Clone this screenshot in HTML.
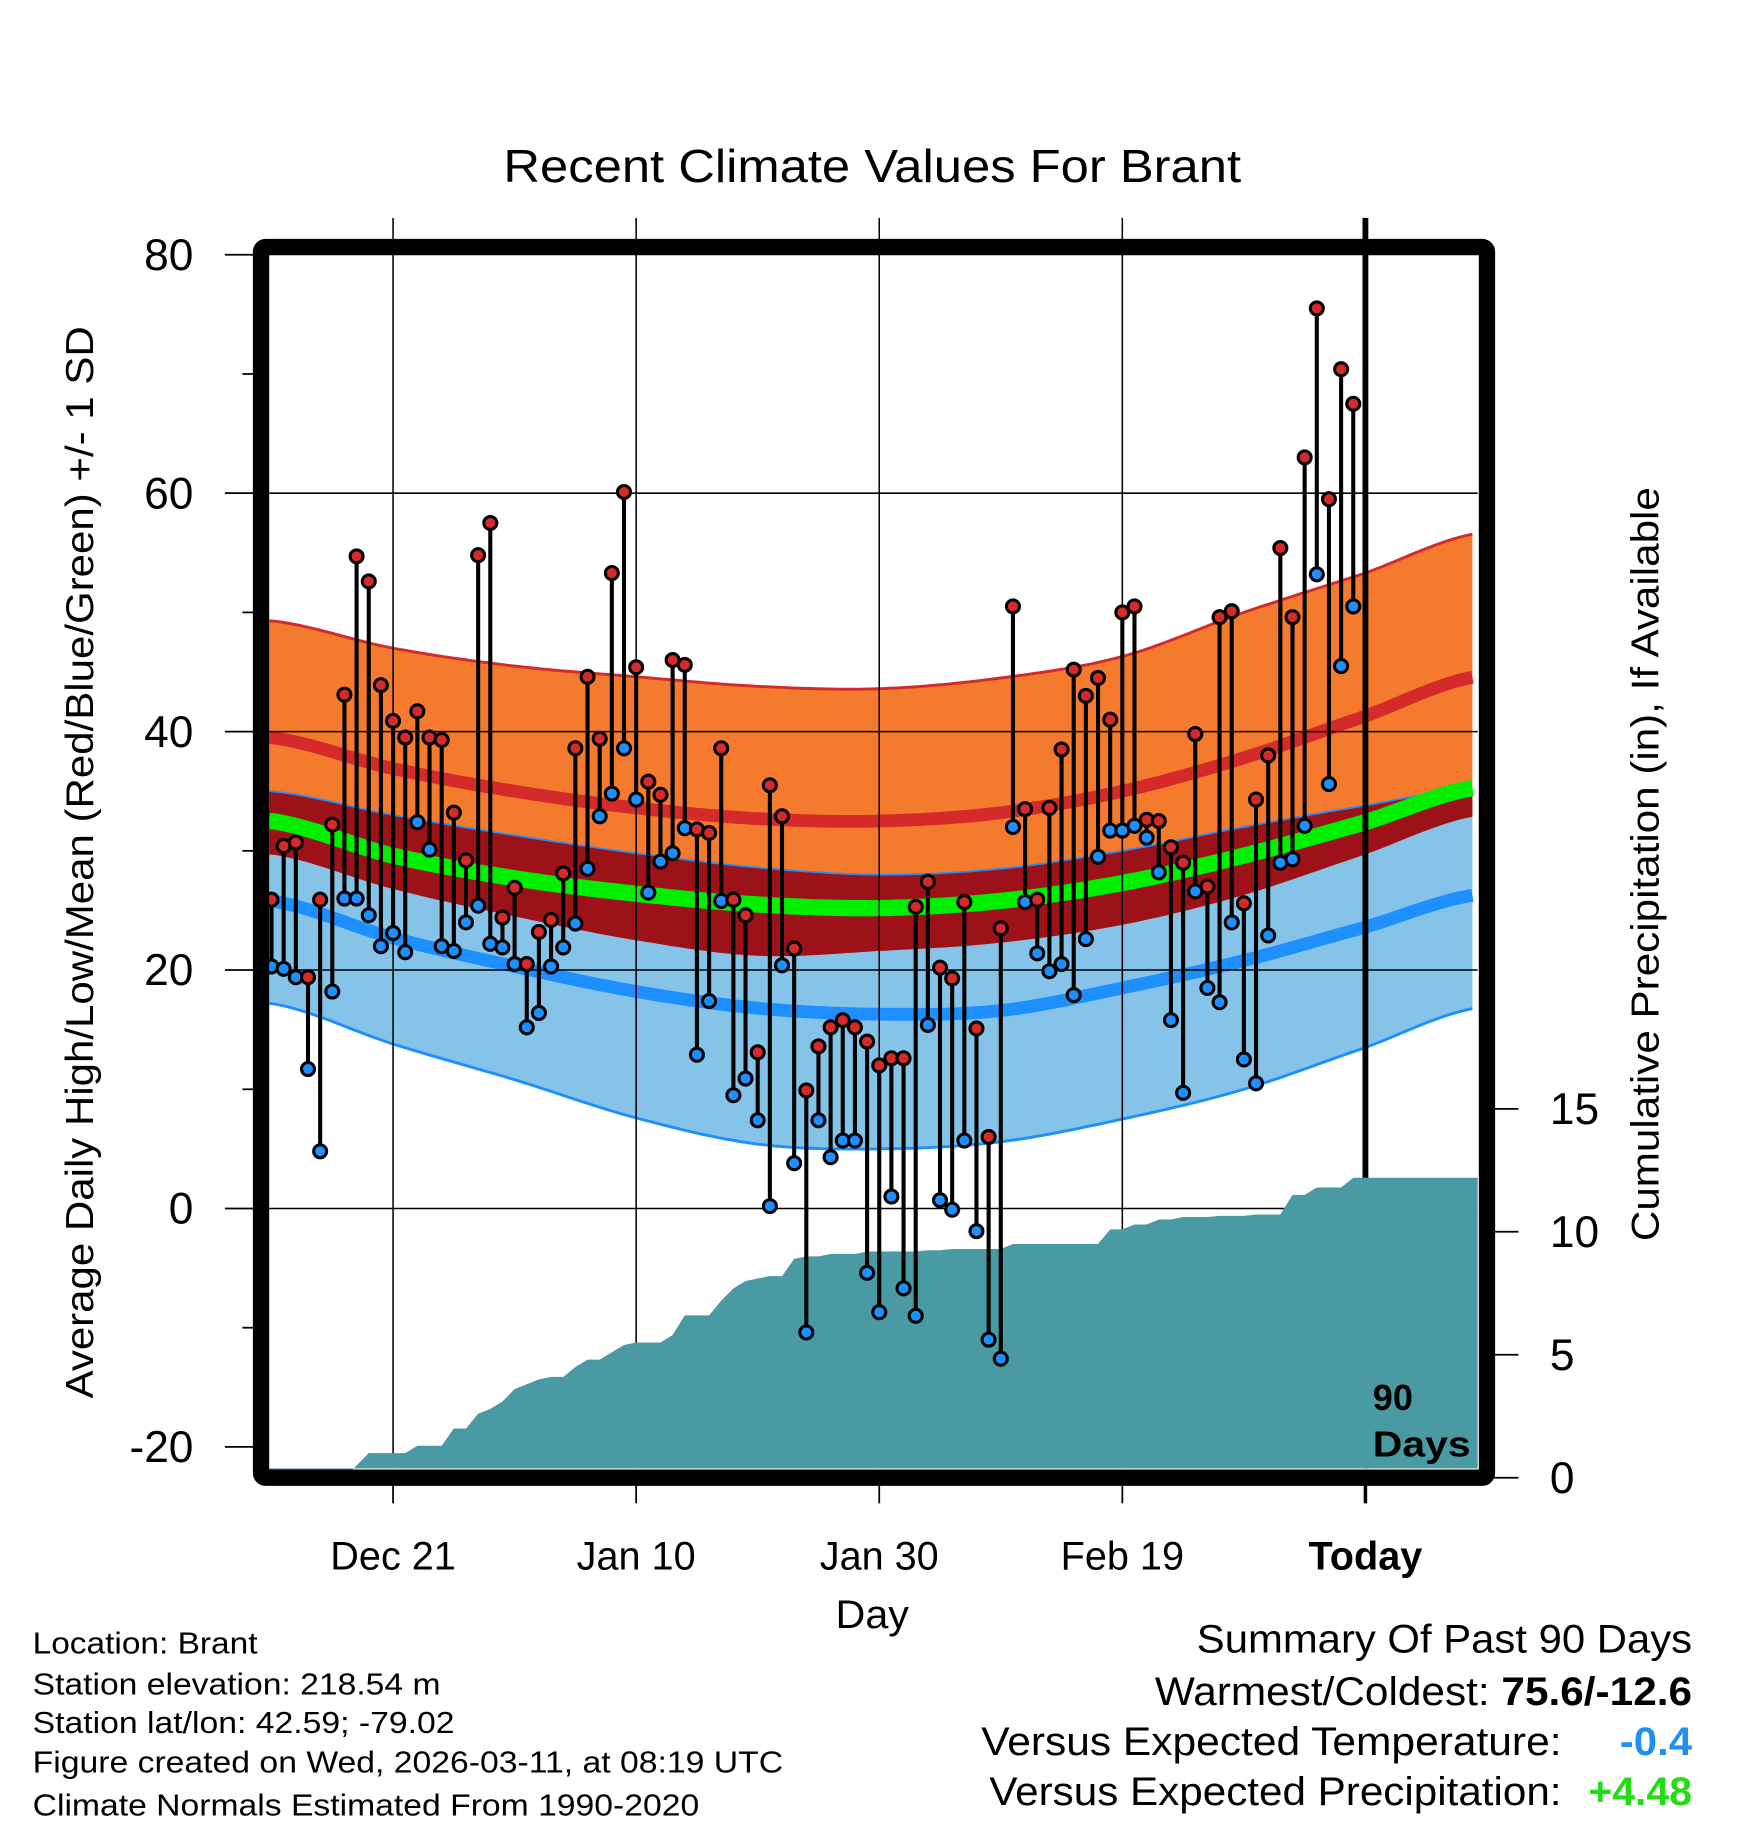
<!DOCTYPE html>
<html><head><meta charset="utf-8"><style>
html,body{margin:0;padding:0;background:#fff;}
svg{display:block;font-family:"Liberation Sans",Arial,sans-serif;}
</style></head><body>
<svg id="chart" width="1748" height="1828" viewBox="0 0 1500 1568.6" preserveAspectRatio="none" xmlns="http://www.w3.org/2000/svg">
<text x="432" y="156" font-size="40" textLength="633" lengthAdjust="spacingAndGlyphs">Recent Climate Values For Brant</text>
<g id="bands"></g><g id="grid"></g><g id="precip"></g><g id="marks"></g><g id="axes"></g>
<text transform="translate(80,1200) rotate(-90)" font-size="33" textLength="920" lengthAdjust="spacingAndGlyphs">Average Daily High/Low/Mean (Red/Blue/Green) +/- 1 SD</text>
<text transform="translate(1423,1065) rotate(-90)" font-size="33" textLength="647" lengthAdjust="spacingAndGlyphs">Cumulative Precipitation (in), If Available</text>
<text x="717" y="1397" font-size="34" textLength="63" lengthAdjust="spacingAndGlyphs">Day</text>
<text x="1178" y="1210" font-size="31" font-weight="bold">90</text>
<text x="1178" y="1250" font-size="31" font-weight="bold" textLength="84" lengthAdjust="spacingAndGlyphs">Days</text>
<g font-size="26">
<text x="28" y="1419" textLength="193" lengthAdjust="spacingAndGlyphs">Location: Brant</text>
<text x="28" y="1454" textLength="350" lengthAdjust="spacingAndGlyphs">Station elevation: 218.54 m</text>
<text x="28" y="1487" textLength="362" lengthAdjust="spacingAndGlyphs">Station lat/lon: 42.59; -79.02</text>
<text x="28" y="1521" textLength="644" lengthAdjust="spacingAndGlyphs">Figure created on Wed, 2026-03-11, at 08:19 UTC</text>
<text x="28" y="1558" textLength="572" lengthAdjust="spacingAndGlyphs">Climate Normals Estimated From 1990-2020</text>
</g>
<g font-size="34">
<text x="1027" y="1418" textLength="425" lengthAdjust="spacingAndGlyphs">Summary Of Past 90 Days</text>
<text x="991" y="1463" textLength="461" lengthAdjust="spacingAndGlyphs">Warmest/Coldest: <tspan font-weight="bold">75.6/-12.6</tspan></text>
<text x="842" y="1506" textLength="498" lengthAdjust="spacingAndGlyphs">Versus Expected Temperature:</text>
<text x="1390" y="1506" fill="#2090f0" font-weight="bold" textLength="62" lengthAdjust="spacingAndGlyphs">-0.4</text>
<text x="849" y="1549" textLength="491" lengthAdjust="spacingAndGlyphs">Versus Expected Precipitation:</text>
<text x="1363" y="1549" fill="#22dd11" font-weight="bold" textLength="89" lengthAdjust="spacingAndGlyphs">+4.48</text>
</g>
</svg>
<script>
const highs=[25.9,30.4,30.7,19.4,25.9,32.2,43.1,54.7,52.6,43.9,40.9,39.5,41.7,39.5,39.3,33.2,29.2,54.8,57.5,24.4,26.9,20.5,23.2,24.2,28.1,38.6,44.6,39.4,53.3,60.1,45.4,35.8,34.7,46.0,45.6,31.8,31.5,38.6,25.9,24.6,13.1,35.5,32.9,21.8,9.9,13.6,15.2,15.8,15.2,14.0,12.0,12.6,12.6,25.3,27.4,20.2,19.3,25.7,15.1,6.0,23.5,50.5,33.5,25.9,33.6,38.5,45.2,43.0,44.5,41.0,50.0,50.5,32.6,32.5,30.3,29.0,39.8,27.0,49.6,50.1,25.6,34.3,38.0,55.4,49.6,63.0,75.5,59.5,70.4,67.5];
const lows=[20.3,20.1,19.4,11.7,4.8,18.2,26.0,26.0,24.6,22.0,23.1,21.5,32.4,30.1,22.0,21.6,24.0,25.4,22.2,21.9,20.5,15.2,16.4,20.3,21.9,23.9,28.5,32.9,34.8,38.6,34.3,26.5,29.1,29.8,31.9,12.9,17.4,25.8,9.5,10.9,7.4,0.2,20.4,3.8,-10.4,7.4,4.3,5.7,5.7,-5.4,-8.7,1.0,-6.7,-9.0,15.4,0.7,-0.1,5.7,-1.9,-11.0,-12.6,32.0,25.7,21.4,19.9,20.5,17.9,22.6,29.5,31.7,31.7,32.1,31.1,28.2,15.8,9.7,26.6,18.5,17.3,24.0,12.5,10.5,22.9,29.0,29.3,32.1,53.2,35.6,45.5,50.5];
const precip=[0,0,0,0,0,0,0,0.5,1,1,1,1,1.3,1.3,1.3,2,2,2.6,2.8,3.1,3.6,3.8,4,4.1,4.1,4.5,4.8,4.8,5.1,5.4,5.5,5.5,5.5,5.8,6.6,6.6,6.6,7.2,7.7,8,8.1,8.2,8.2,8.9,9,9,9.1,9.1,9.1,9.2,9.2,9.2,9.2,9.2,9.25,9.25,9.3,9.3,9.3,9.3,9.3,9.5,9.5,9.5,9.5,9.5,9.5,9.5,9.5,10.1,10.1,10.3,10.3,10.5,10.5,10.6,10.6,10.6,10.65,10.65,10.65,10.7,10.7,10.7,11.5,11.5,11.8,11.8,11.8,12.2];
const normDays=[0,10,20,30,40,50,60,70,80,90,99];
const hiPlus=[49.3,47.0,45.5,44.6,43.8,43.6,44.5,46.3,50.0,53.3,56.6];
const hiMean=[39.5,36.9,35.0,33.6,32.7,32.5,33.2,35.0,37.8,41.3,44.6];
const hiMinus=[29.7,26.8,24.5,22.5,21.2,21.6,22.3,23.8,26.3,29.7,32.9];
const loPlus=[35.0,33.0,31.3,29.8,28.6,28.0,28.5,30.0,32.0,33.8,35.3];
const avgMean=[32.5,29.6,27.7,26.4,25.5,25.2,25.8,27.3,29.6,32.4,35.3];
const loMean=[25.8,22.7,20.3,18.2,16.8,16.3,16.6,18.5,20.8,23.6,26.3];
const loMinus=[17.2,13.8,10.8,7.6,5.4,5.0,5.6,7.5,10.0,13.5,16.8];
const yTicks=[80,60,40,20,0,-20];
const pTicks=[0,5,10,15];
const xTickDays=[10,30,50,70,90];
const xTickLabels=["Dec 21","Jan 10","Jan 30","Feb 19","Today"];

const NS="http://www.w3.org/2000/svg";
const X=d=>233+d*10.43;
const Y=v=>1037-v*10.23;
const P=p=>1268-p*21.1;
const L=231,R=1268,T=219,B=1260;
function el(tag,attrs,parent){const e=document.createElementNS(NS,tag);for(const k in attrs)e.setAttribute(k,attrs[k]);parent.appendChild(e);return e;}
function spline(arr,d){
  let i=0;while(i<normDays.length-2&&d>normDays[i+1])i++;
  const x0=normDays[i],x1=normDays[i+1],t=Math.max(0,Math.min(1,(d-x0)/(x1-x0)));
  const p0=arr[Math.max(0,i-1)],p1=arr[i],p2=arr[i+1],p3=arr[Math.min(arr.length-1,i+2)];
  const t2=t*t,t3=t2*t;
  return 0.5*((2*p1)+(-p0+p2)*t+(2*p0-5*p1+4*p2-p3)*t2+(-p0+3*p1-3*p2+p3)*t3);
}
function pts(arr){const o=[];for(let d=-0.2;d<=99.01;d+=0.5)o.push([Math.max(L,Math.min(R,X(d))),Y(spline(arr,Math.max(0,d)))]);return o;}
function line(p){return p.map((q,i)=>(i?'L':'M')+q[0].toFixed(1)+','+q[1].toFixed(1)).join('');}
function band(a,b){const pa=pts(a),pb=pts(b).reverse();return line(pa)+line(pb).replace(/^M/,'L')+'Z';}
const bands=document.getElementById('bands');
let e;
e=el('path',{d:band(loPlus,loMinus),fill:'#85c3e8'},bands);

e=el('path',{d:band(hiPlus,hiMinus),fill:'#f47a2e'},bands);

e=el('path',{d:band(loPlus,hiMinus),fill:'#9c1218'},bands);

e=el('path',{d:line(pts(hiPlus)),fill:'none',stroke:'#d42a2a',"stroke-width":2.5},bands);

e=el('path',{d:line(pts(loMinus)),fill:'none',stroke:'#1e8fff',"stroke-width":2.5},bands);

e=el('path',{d:line(pts(loPlus)),fill:'none',stroke:'#1e8fff',"stroke-width":1.5},bands);

e=el('path',{d:line(pts(hiMean)),fill:'none',stroke:'#d42a2a',"stroke-width":11},bands);

e=el('path',{d:line(pts(avgMean)),fill:'none',stroke:'#00ee00',"stroke-width":14},bands);

e=el('path',{d:line(pts(loMean)),fill:'none',stroke:'#1e8fff',"stroke-width":11},bands);


const grid=document.getElementById('grid');
yTicks.forEach(v=>{if(v===80||v===-20)return;const g=el('line',{x1:L,x2:R,y1:Y(v),y2:Y(v),stroke:'#000',"stroke-width":1.3},grid);
});
xTickDays.forEach((d,i)=>{const g=el('line',{x1:X(d),x2:X(d),y1:187,y2:B,stroke:'#000',"stroke-width":i===4?5:1.3},grid);
});

const pg=document.getElementById('precip');
let pd='M'+L+','+B;
precip.forEach((p,d)=>{pd+='L'+Math.max(L,X(d)).toFixed(1)+','+P(p).toFixed(1);});
pd+='L'+R+','+P(precip[precip.length-1]).toFixed(1)+'L'+R+','+B+'Z';
e=el('path',{d:pd,fill:'#4a9aa3'},pg);


const mg=document.getElementById('marks');
highs.forEach((h,d)=>{const lo=lows[d];
const s=el('line',{x1:X(d),x2:X(d),y1:Y(h),y2:Y(lo),stroke:'#000',"stroke-width":3.5},mg);

const c1=el('circle',{cx:X(d),cy:Y(lo),r:5.6,fill:'#1e8fff',stroke:'#000',"stroke-width":2.6},mg);

const c2=el('circle',{cx:X(d),cy:Y(h),r:5.6,fill:'#d42a2a',stroke:'#000',"stroke-width":2.6},mg);
});

const ax=document.getElementById('axes');
e=el('rect',{x:224,y:212,width:1052,height:1056,rx:4,fill:'none',stroke:'#000',"stroke-width":14},ax);

for(let v=-20;v<=80;v+=10){const major=v%20===0;
const t=el('line',{x1:major?193:208,x2:218,y1:Y(v),y2:Y(v),stroke:'#000',"stroke-width":1.5},ax);
}
yTicks.forEach(v=>{const t=el('text',{x:166,y:Y(v)+13,"font-size":38,"text-anchor":"end"},ax);t.textContent=v;
});
pTicks.forEach(p=>{const t=el('line',{x1:1282,x2:1303,y1:P(p),y2:P(p),stroke:'#000',"stroke-width":1.5},ax);

const tx=el('text',{x:1330,y:P(p)+13,"font-size":38},ax);tx.textContent=p;
});
xTickDays.forEach((d,i)=>{const t=el('line',{x1:X(d),x2:X(d),y1:1268,y2:1290,stroke:'#000',"stroke-width":i===4?3:1.5},ax);

const tx=el('text',{x:X(d),y:1347,"font-size":34,"text-anchor":"middle","font-weight":i===4?"bold":"normal"},ax);tx.textContent=xTickLabels[i];
});
</script>
</body></html>
